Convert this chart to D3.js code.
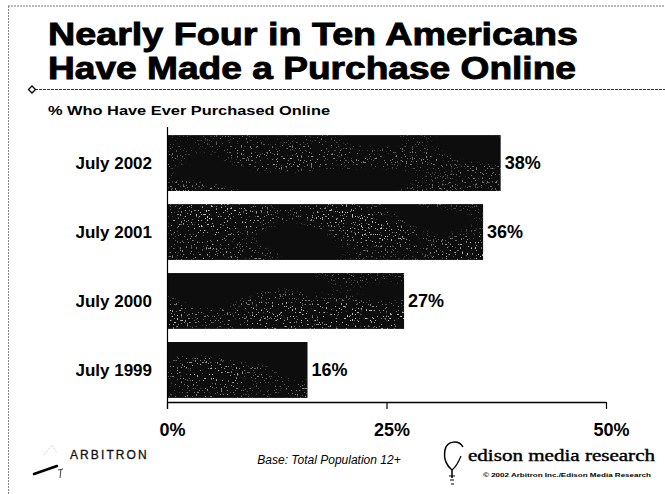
<!DOCTYPE html>
<html>
<head>
<meta charset="utf-8">
<script src="https://cdn.jsdelivr.net/npm/d3@7/dist/d3.min.js"></script>
<style>
  html, body { margin: 0; padding: 0; background: #fff; }
  svg { display: block; font-family: Arial, "Liberation Sans", sans-serif; }
</style>
</head>
<body>
<svg id="chart" width="665" height="494"></svg>
<script>
// Survey share of people who have ever bought something online
const categories = ["July 2002", "July 2001", "July 2000", "July 1999"];
const values = [38, 36, 27, 16];
const tickValues = [0, 25, 50];
const tickLabels = ["0%", "25%", "50%"];

const svg = d3.select("#chart");
const W = 665, H = 494;

// slide frame
svg.append("line").attr("x1", 8).attr("y1", 6).attr("x2", W).attr("y2", 6)
  .attr("stroke", "#777").attr("stroke-width", 1).attr("stroke-dasharray", "2,1");
svg.append("line").attr("x1", 8.5).attr("y1", 6).attr("x2", 8.5).attr("y2", H)
  .attr("stroke", "#888").attr("stroke-width", 1).attr("stroke-dasharray", "2,1");

// title, set heavy and wide
const title = svg.append("text").attr("font-size", 31).attr("font-weight", "bold")
  .attr("fill", "#000").attr("stroke", "#000").attr("stroke-width", 0.9);
title.append("tspan").attr("x", 48).attr("y", 45).attr("textLength", 530)
  .attr("lengthAdjust", "spacingAndGlyphs").text("Nearly Four in Ten Americans");
title.append("tspan").attr("x", 48).attr("y", 79).attr("textLength", 528)
  .attr("lengthAdjust", "spacingAndGlyphs").text("Have Made a Purchase Online");

// rule under the title with diamond bullet
svg.append("line").attr("x1", 31).attr("y1", 89.5).attr("x2", W).attr("y2", 89.5)
  .attr("stroke", "#333").attr("stroke-width", 1.2).attr("stroke-dasharray", "3,1");
svg.append("path").attr("d", "M32,86 L35.5,89.5 L32,93 L28.5,89.5 Z")
  .attr("fill", "#fff").attr("stroke", "#000").attr("stroke-width", 1.3);

svg.append("text").attr("x", 48).attr("y", 115)
  .attr("font-size", 13).attr("font-weight", "bold")
  .attr("textLength", 282).attr("lengthAdjust", "spacingAndGlyphs")
  .text("% Who Have Ever Purchased Online");

// plot area
const x = d3.scaleLinear().domain([0, 50]).range([167, 606]);
const y = d3.scaleBand().domain(categories).range([131, 402]).paddingInner(0.19).paddingOuter(0.06);

// speckled texture for the bars: sparse fine dots, gathered into broad diagonal streaks
const defs = svg.append("defs");
const f = defs.append("filter").attr("id", "grain").attr("x", 0).attr("y", 0).attr("width", 1).attr("height", 1);
f.append("feTurbulence").attr("type", "fractalNoise").attr("baseFrequency", "0.8 0.5")
  .attr("numOctaves", 2).attr("seed", 7).attr("result", "noise");
f.append("feColorMatrix").attr("in", "noise").attr("type", "matrix")
  .attr("values", "0 0 0 0 1  0 0 0 0 1  0 0 0 0 1  0 0 0 14 -9.3").attr("result", "dots");
f.append("feTurbulence").attr("type", "fractalNoise").attr("baseFrequency", "0.012 0.03")
  .attr("numOctaves", 1).attr("seed", 3).attr("result", "low");
f.append("feColorMatrix").attr("in", "low").attr("type", "matrix")
  .attr("values", "0 0 0 0 1  0 0 0 0 1  0 0 0 0 1  4 0 0 0 -1.7").attr("result", "streaks");
f.append("feComposite").attr("in", "dots").attr("in2", "streaks").attr("operator", "in").attr("result", "streakDots");
f.append("feComposite").attr("in", "streakDots").attr("in2", "SourceGraphic").attr("operator", "in").attr("result", "clipped");
f.append("feComponentTransfer").attr("in", "clipped").attr("result", "faded")
  .append("feFuncA").attr("type", "linear").attr("slope", 0.5);
const m = f.append("feMerge");
m.append("feMergeNode").attr("in", "SourceGraphic");
m.append("feMergeNode").attr("in", "faded");

const bars = svg.append("g").selectAll("g").data(categories).join("g");
bars.append("rect")
  .attr("x", x(0)).attr("y", d => y(d))
  .attr("width", (d, i) => x(values[i]) - x(0))
  .attr("height", y.bandwidth())
  .attr("fill", "#080808")
  .attr("filter", "url(#grain)");

// value labels
bars.append("text")
  .attr("x", (d, i) => x(values[i]) + 4)
  .attr("y", d => y(d) + y.bandwidth() / 2 + 6)
  .attr("font-size", 18).attr("font-weight", "bold")
  .text((d, i) => values[i] + "%");

// category labels
bars.append("text")
  .attr("x", 152).attr("y", d => y(d) + y.bandwidth() / 2 + 6)
  .attr("text-anchor", "end").attr("font-size", 17).attr("font-weight", "bold")
  .text(d => d);

// y axis line
svg.append("line").attr("x1", 167.5).attr("y1", 127).attr("x2", 167.5).attr("y2", 409)
  .attr("stroke", "#000").attr("stroke-width", 1.2);

// x axis
const xAxis = d3.axisBottom(x).tickValues(tickValues)
  .tickFormat((d, i) => tickLabels[i]).tickSize(7).tickPadding(14);
const gx = svg.append("g").attr("transform", "translate(0,402)").call(xAxis);
gx.select(".domain").attr("stroke", "#000").attr("stroke-width", 1.4).attr("d", "M167,0.5H606");
gx.selectAll(".tick line").attr("stroke", "#000").attr("stroke-width", 1.2);
gx.selectAll(".tick text").attr("font-size", 18).attr("font-weight", "bold")
  .attr("font-family", "Arial, 'Liberation Sans', sans-serif").attr("fill", "#000")
  .attr("dx", 5);

// footer: Arbitron mark
const arb = svg.append("g");
arb.append("path").attr("d", "M34,474 L57,466").attr("stroke", "#000").attr("stroke-width", 2.5).attr("stroke-linecap", "round");
arb.append("path").attr("d", "M44,455 L52,445 L57,453").attr("stroke", "#ccc").attr("stroke-width", 1).attr("fill", "none").attr("stroke-dasharray", "1,1");
arb.append("path").attr("d", "M58,470 L63,469 M61,469 L60,478").attr("stroke", "#444").attr("stroke-width", 1).attr("fill", "none");
arb.append("text").attr("x", 70).attr("y", 459).attr("font-size", 12).attr("letter-spacing", 2.1)
  .attr("fill", "#111").attr("stroke", "#111").attr("stroke-width", 0.3).text("ARBITRON");

svg.append("text").attr("x", 329).attr("y", 464).attr("text-anchor", "middle")
  .attr("font-size", 12).attr("font-style", "italic").text("Base: Total Population 12+");

// footer: Edison mark
const ed = svg.append("g");
ed.append("path").attr("d", "M463,447 C459,440 447,440 445,450 C443,460 448,467 452,470 L452,478")
  .attr("stroke", "#000").attr("stroke-width", 1.5).attr("fill", "none");
ed.append("path").attr("d", "M452,470 C456,467 459,461 461,456")
  .attr("stroke", "#000").attr("stroke-width", 1.2).attr("fill", "none");
ed.append("path").attr("d", "M449,476 L455,476 M450,480 L454,480 M451,484 L454,484").attr("stroke", "#000").attr("stroke-width", 1.2);
ed.append("text").attr("x", 468).attr("y", 461).attr("font-size", 17)
  .attr("font-family", "'Liberation Serif', 'DejaVu Serif', serif")
  .attr("stroke", "#000").attr("stroke-width", 0.4)
  .attr("textLength", 187).attr("lengthAdjust", "spacingAndGlyphs")
  .text("edison media research");
ed.append("text").attr("x", 483).attr("y", 477).attr("font-size", 5).attr("font-weight", "bold")
  .attr("textLength", 168).attr("lengthAdjust", "spacingAndGlyphs")
  .text("© 2002 Arbitron Inc./Edison Media Research");
</script>
</body>
</html>
